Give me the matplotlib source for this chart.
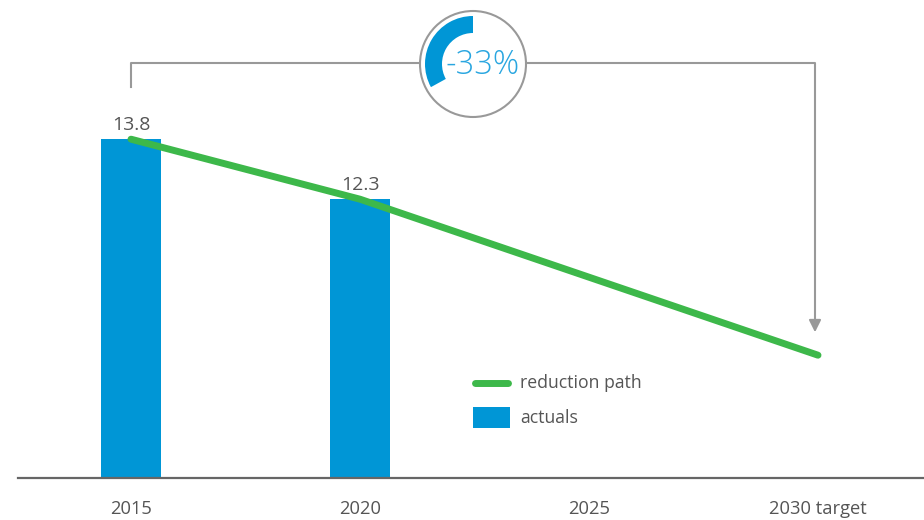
import matplotlib.pyplot as plt
from matplotlib.patches import Circle, Wedge, Rectangle

categories = ['2015', '2020', '2025', '2030 target']
actual_pos = [0, 1]
actual_vals = [13.8, 12.3]
path_pos = [0, 1, 3]
path_vals = [13.8, 12.3, 8.4]
reduction_pct = 33

BLUE = '#0096d6'
GREEN = '#3db84a'
GREY = '#999999'
TEXT = '#555555'

plt.rcParams['font.family'] = ['Open Sans', 'DejaVu Sans']

fig = plt.figure(figsize=(9.24, 5.2), dpi=100)

# main chart, placed so that the baseline sits at the right pixel row
ax = fig.add_axes([18 / 924, 42 / 520, 906 / 924, 478 / 520])
ax.set_xlim(-113 / 229, 793 / 229)
ax.set_ylim(5.33, 5.33 + 478 / 40)

ax.bar(actual_pos, actual_vals, width=0.266, color=BLUE, zorder=2)
ax.plot(path_pos, path_vals, color=GREEN, lw=5, solid_capstyle='round', zorder=3)

for x, v in zip(actual_pos, actual_vals):
    ax.annotate('{}'.format(v), (x, v), xytext=(0, 4), textcoords='offset points',
                ha='center', va='bottom', fontsize=14, color=TEXT)

ax.set_xticks(range(len(categories)))
ax.set_xticklabels(categories, fontsize=13.2, color=TEXT)
ax.tick_params(axis='x', length=0, pad=15.5)
ax.set_yticks([])
for side in ['top', 'right', 'left']:
    ax.spines[side].set_visible(False)
ax.spines['bottom'].set_color('#666666')
ax.spines['bottom'].set_linewidth(1.6)
ax.patch.set_visible(False)

# overlay in pixel units for the bracket, the badge and the legend
ov = fig.add_axes([0, 0, 1, 1], zorder=5)
ov.set_xlim(0, 924)
ov.set_ylim(0, 520)
ov.axis('off')

ov.plot([131, 131, 815, 815], [433, 457, 457, 196], color=GREY, lw=1.5)
ov.annotate('', xy=(815, 185), xytext=(815, 197),
            arrowprops=dict(arrowstyle='-|>', color=GREY, lw=1.5, mutation_scale=18))

ov.add_patch(Circle((473, 456), 53, facecolor='white', edgecolor=GREY, lw=1.5, zorder=6))
ov.add_patch(Wedge((473, 456), 48, 90, 90 + reduction_pct * 3.6, width=17,
                   facecolor=BLUE, edgecolor='none', zorder=7))
ov.text(483, 455, '-{}%'.format(reduction_pct), ha='center', va='center',
        fontsize=23.5, color='#29a6e0', fontweight='light', zorder=8)

ov.plot([475, 508], [137, 137], color=GREEN, lw=5, solid_capstyle='round')
ov.add_patch(Rectangle((473, 92), 37, 21, facecolor=BLUE, edgecolor='none'))
ov.text(520, 137, 'reduction path', va='center', fontsize=12.7, color=TEXT)
ov.text(520, 102, 'actuals', va='center', fontsize=12.7, color=TEXT)

fig.savefig('out.png', dpi=100)
